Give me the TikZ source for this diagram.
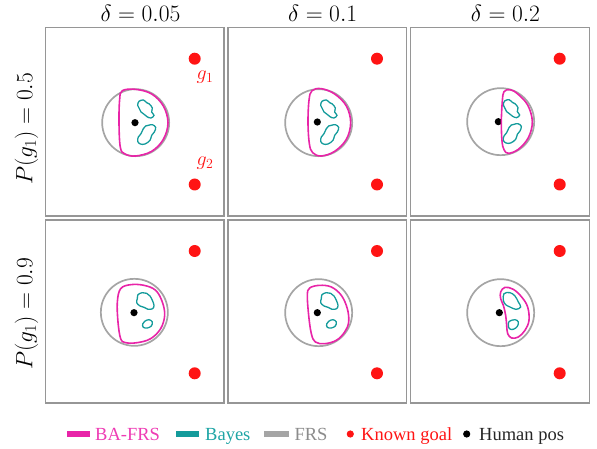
\documentclass[tikz,border=0pt]{standalone}
\usepackage{fontspec}
\newfontfamily\legendfont{Liberation Serif}
\DeclareMathSizes{24.88}{24.88}{17.28}{12}
\DeclareMathSizes{20.74}{20.74}{14.4}{10}
\definecolor{bamag}{RGB}{232,36,168}
\definecolor{bateal}{RGB}{20,155,155}
\definecolor{frsgray}{RGB}{165,165,165}
\definecolor{framegray}{RGB}{150,150,150}
\definecolor{goalred}{RGB}{255,20,20}
\definecolor{legmag}{RGB}{238,60,180}
\definecolor{legteal}{RGB}{30,165,165}
\definecolor{leggray}{RGB}{140,140,140}
\begin{document}
\begin{tikzpicture}[x=1pt,y=-1pt,
  frame/.style={draw=framegray,line width=1.1pt},
  frs/.style={draw=frsgray,line width=1.7pt},
  bafrs/.style={draw=bamag,line width=1.6pt},
  bayes/.style={draw=bateal,line width=1.3pt},
  goal/.style={fill=goalred},
  human/.style={fill=black},
  ptitle/.style={inner sep=0pt,anchor=base,scale=0.945,font=\fontsize{24.88}{30}\selectfont},
  rowlab/.style={inner sep=0pt,rotate=90,scale=0.945,font=\fontsize{24.88}{30}\selectfont},
  glab/.style={inner sep=0pt,anchor=base west,text=goalred,scale=0.965,font=\fontsize{20.74}{25}\selectfont},
  legtext/.style={inner sep=0pt,anchor=base west,font=\legendfont\fontsize{18.5}{22}\selectfont}
]
\useasboundingbox (0,0) rectangle (597,449);

% titles
\node[ptitle] (t1) at (140.5,21.7) {$\delta=0.05$};
\node[ptitle] (t2) at (322.7,21.7) {$\delta=0.1$};
\node[ptitle] (t3) at (505.5,21.7) {$\delta=0.2$};
\node[rowlab] (r1) at (26.5,128.7) {$P(g_1)=0.5$};
\node[rowlab] (r2) at (26.5,313.7) {$P(g_1)=0.9$};

% frames
\draw[frame] (45.7,27.3) rectangle (224,216);
\draw[frame] (228,27.3) rectangle (406.7,216);
\draw[frame] (410.3,27.3) rectangle (589.7,216);
\draw[frame] (45.7,220) rectangle (224,403);
\draw[frame] (228,220) rectangle (406.7,403);
\draw[frame] (410.3,220) rectangle (589.7,403);

% goals
\foreach \gx in {194.7,377,559.7}{
  \fill[goal] (\gx,58.7) circle[radius=6pt];
  \fill[goal] (\gx,184.5) circle[radius=6pt];
  \fill[goal] (\gx,251) circle[radius=6pt];
  \fill[goal] (\gx,373.3) circle[radius=6pt];
}
\node[glab] (g1) at (196.5,79.3) {$g_1$};
\node[glab] (g2) at (196.5,165.3) {$g_2$};

% ---------- row 1, col 1
\begin{scope}[shift={(95pt,-82pt)},x=0.33333pt,y=-0.33333pt]
\draw[frs] (122,122) circle[radius=33.5pt];
\fill[human] (120,122) circle[radius=3.6pt];
\draw[bayes] plot[smooth cycle,tension=0.6] coordinates {(132,58) (145,54) (155,62) (163,66) (172,78) (170,90) (177,100) (168,108) (156,104) (146,96) (138,90) (133,80) (128,70)};
\draw[bayes] plot[smooth cycle,tension=0.6] coordinates {(160,130) (172,128) (182,136) (178,150) (170,160) (165,175) (150,186) (136,186) (128,178) (130,165) (138,155) (145,140) (152,132)};
\draw[bafrs] plot[smooth cycle,tension=0.6] coordinates {(82,26) (122,22) (170,36) (205,72) (219,122) (205,172) (170,208) (122,222) (90,216) (76,196) (72,122) (74,52)};
\end{scope}

% ---------- row 1, col 2
\begin{scope}[shift={(278pt,-82pt)},x=0.33333pt,y=-0.33333pt]
\draw[frs] (122,122) circle[radius=33.5pt];
\fill[human] (118,120) circle[radius=3.6pt];
\draw[bayes] plot[smooth cycle,tension=0.6] coordinates {(132,58) (145,54) (155,62) (163,66) (172,78) (170,90) (177,100) (168,108) (156,104) (146,96) (138,90) (133,80) (128,70)};
\draw[bayes] plot[smooth cycle,tension=0.6] coordinates {(160,130) (172,128) (182,136) (178,150) (170,160) (165,175) (150,186) (136,186) (128,178) (130,165) (138,155) (145,140) (152,132)};
\draw[bafrs] plot[smooth cycle,tension=0.6] coordinates {(102,26) (130,20) (170,36) (205,72) (218,122) (205,172) (170,208) (130,222) (104,212) (94,185) (90,122) (93,55)};
\end{scope}

% ---------- row 1, col 3
\begin{scope}[shift={(460pt,-81pt)},x=0.33333pt,y=-0.33333pt]
\draw[frs] (122,122) circle[radius=33.5pt];
\fill[human] (115,122) circle[radius=3.6pt];
\draw[bayes] plot[smooth cycle,tension=0.6] coordinates {(134,60) (147,56) (157,64) (165,68) (174,80) (172,92) (179,102) (170,110) (158,106) (148,98) (140,92) (135,82) (130,72)};
\draw[bayes] plot[smooth cycle,tension=0.6] coordinates {(162,130) (174,128) (184,136) (180,150) (172,160) (167,175) (152,186) (138,186) (130,178) (132,165) (140,155) (147,140) (154,132)};
\draw[bafrs] plot[smooth cycle,tension=0.6] coordinates {(132,32) (150,26) (172,38) (203,72) (217,122) (205,170) (175,205) (145,217) (132,206) (126,180) (124,122) (127,60)};
\end{scope}

% ---------- row 2, col 1
\begin{scope}[shift={(94pt,-272pt)},x=0.33333pt,y=-0.33333pt]
\draw[frs] (121,121) circle[radius=33.5pt];
\fill[human] (120,122) circle[radius=3.6pt];
\draw[bayes] plot[smooth cycle,tension=0.6] coordinates {(132,68) (145,62) (158,64) (168,72) (175,85) (180,100) (176,110) (162,112) (150,106) (138,102) (128,92) (130,80)};
\draw[bayes] plot[smooth cycle,tension=0.6] coordinates {(152,148) (165,143) (175,150) (172,162) (160,168) (148,166) (146,156)};
\draw[bafrs] plot[smooth cycle,tension=0.6] coordinates {(80,50) (110,38) (150,40) (185,55) (205,90) (212,130) (200,170) (170,200) (130,212) (95,212) (80,200) (72,150) (70,90)};
\end{scope}

% ---------- row 2, col 2
\begin{scope}[shift={(278pt,-272pt)},x=0.33333pt,y=-0.33333pt]
\draw[frs] (122,122) circle[radius=33.5pt];
\fill[human] (118,122) circle[radius=3.6pt];
\draw[bayes] plot[smooth cycle,tension=0.6] coordinates {(132,68) (145,62) (158,64) (168,72) (175,85) (180,100) (176,110) (162,112) (150,106) (138,102) (128,92) (130,80)};
\draw[bayes] plot[smooth cycle,tension=0.6] coordinates {(152,148) (165,143) (175,150) (172,162) (160,168) (148,166) (146,156)};
\draw[bafrs] plot[smooth cycle,tension=0.6] coordinates {(95,48) (125,40) (160,45) (190,70) (208,110) (212,150) (200,180) (175,205) (140,215) (112,210) (100,185) (92,130) (88,70)};
\end{scope}

% ---------- row 2, col 3
\begin{scope}[shift={(460pt,-272pt)},x=0.33333pt,y=-0.33333pt]
\draw[frs] (122,122) circle[radius=33.5pt];
\fill[human] (118,122) circle[radius=3.6pt];
\draw[bayes] plot[smooth cycle,tension=0.6] coordinates {(132,65) (150,62) (165,72) (175,90) (182,105) (168,112) (150,105) (137,98) (130,85)};
\draw[bayes] plot[smooth cycle,tension=0.6] coordinates {(148,148) (165,143) (175,150) (172,163) (160,172) (148,170) (145,158)};
\draw[bafrs] plot[smooth cycle,tension=0.6] coordinates {(122,60) (135,46) (160,52) (185,75) (203,105) (207,145) (195,175) (175,195) (155,198) (143,185) (140,160) (137,130) (130,100) (122,80)};
\end{scope}

% ---------- legend
\fill[bamag] (66.7,431) rectangle (90,437);
\node[legtext,text=legmag] (l1) at (95,440) {BA-FRS};
\fill[bateal] (176,431) rectangle (199.3,437);
\node[legtext,text=legteal] (l2) at (205,440) {Bayes};
\fill[frsgray] (264,431) rectangle (288.7,437);
\node[legtext,text=leggray] (l3) at (294.3,440) {FRS};
\fill[goalred] (350.3,434) circle[radius=3.6pt];
\node[legtext,text=goalred] (l4) at (361,440) {Known goal};
\fill[black] (466.7,434) circle[radius=3.6pt];
\node[legtext,text={black!85}] (l5) at (479,440) {Human pos};
\end{tikzpicture}
\end{document}
